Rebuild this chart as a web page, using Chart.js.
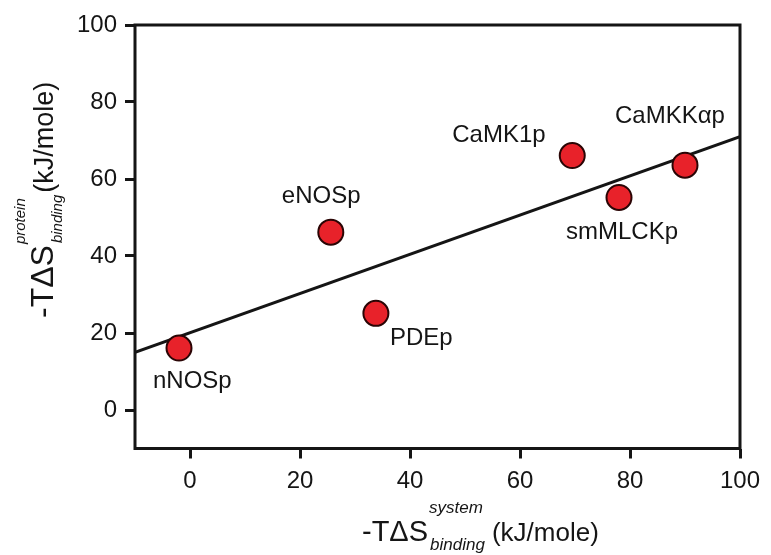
<!DOCTYPE html>
<html>
<head>
<meta charset="utf-8">
<script src="https://cdn.jsdelivr.net/npm/chart.js@4.4.1/dist/chart.umd.min.js"></script>
<style>
  html, body { margin: 0; padding: 0; background: #fff; }
  #wrap { width: 771px; height: 555px; }
</style>
</head>
<body>
<div id="wrap"><canvas id="grafico" width="771" height="555"></canvas></div>
<script>
// peptides and their entropy values (kJ/mole)
const peptidos = ['nNOSp', 'eNOSp', 'PDEp', 'CaMK1p', 'smMLCKp', 'CaMKKαp'];
const sistema = [-2.0, 25.6, 33.8, 69.5, 78.0, 90.0];
const proteina = [16.1, 46.2, 25.1, 66.1, 55.2, 63.6];

// linear fit drawn across the axis
const ajusteX = [-10, 100];
const ajusteY = [15.0, 71.0];

const ticksX = [0, 20, 40, 60, 80, 100];
const ticksY = [0, 20, 40, 60, 80, 100];

// where each label sits relative to its point
const offsetEtiquetas = [[-26, 40], [-49, -29], [14, 32], [-120, -14], [-53, 42], [-70, -42]];

const FUENTE = '"Liberation Sans", Arial, Helvetica, sans-serif';
const NEGRO = '#151515';

const ctx = document.getElementById('grafico').getContext('2d');

function dibujarTitulo(c, x, y, tam, sup, sub) {
    c.fillStyle = NEGRO;
    c.textBaseline = 'alphabetic';
    c.textAlign = 'left';
    c.font = tam.main + 'px ' + FUENTE;
    c.fillText('-TΔS', x, y);
    let x2 = x + c.measureText('-TΔS').width + 1;
    c.font = 'italic ' + tam.chico + 'px ' + FUENTE;
    c.fillText(sup, x2, y - 28);
    c.fillText(sub, x2 + 1, y + 9);
    const ancho = Math.max(c.measureText(sup).width, c.measureText(sub).width + 1);
    c.font = tam.unid + 'px ' + FUENTE;
    c.fillText('(kJ/mole)', x2 + ancho + tam.gap, y);
}

const extras = {
    id: 'extras',
    afterDatasetsDraw(chart) {
        const c = chart.ctx;
        const a = chart.chartArea;
        c.save();
        // frame
        c.strokeStyle = NEGRO;
        c.lineWidth = 3;
        c.strokeRect(a.left, a.top, a.right - a.left, a.bottom - a.top);

        // point labels
        const meta = chart.getDatasetMeta(0);
        c.font = '24px ' + FUENTE;
        c.fillStyle = NEGRO;
        c.textAlign = 'left';
        c.textBaseline = 'alphabetic';
        meta.data.forEach((p, i) => {
            c.fillText(peptidos[i], p.x + offsetEtiquetas[i][0], p.y + offsetEtiquetas[i][1]);
        });

        // x axis title
        dibujarTitulo(c, 362, 541, { main: 29, chico: 17, unid: 26, gap: 7 }, 'system', 'binding');

        // y axis title (rotated)
        c.translate(53, 318);
        c.rotate(-Math.PI / 2);
        dibujarTitulo(c, 0, 0, { main: 32, chico: 15, unid: 27, gap: 2 }, 'protein', 'binding');
        c.restore();
    }
};

const chart = new Chart(ctx, {
    type: 'scatter',
    data: {
        datasets: [{
            label: 'peptidos',
            data: sistema.map((x, i) => ({ x, y: proteina[i] })),
            backgroundColor: '#e8222a',
            borderColor: '#2a0505',
            borderWidth: 2,
            pointRadius: 12.5,
            pointHoverRadius: 12.5
        }, {
            type: 'line',
            label: 'ajuste',
            data: ajusteX.map((x, i) => ({ x, y: ajusteY[i] })),
            borderColor: NEGRO,
            borderWidth: 3,
            pointRadius: 0,
            fill: false
        }]
    },
    options: {
        responsive: false,
        animation: false,
        layout: { padding: { left: 0, top: 25, right: 31, bottom: 0 } },
        plugins: { legend: { display: false }, tooltip: { enabled: false } },
        scales: {
            x: {
                type: 'linear',
                min: -10,
                max: 100,
                afterBuildTicks: s => { s.ticks = ticksX.map(v => ({ value: v })); },
                afterFit: s => { s.height = 106.5; },
                grid: { drawOnChartArea: false, drawTicks: true, tickLength: 10, tickWidth: 3, color: NEGRO },
                border: { display: false },
                ticks: { color: NEGRO, padding: 8, maxRotation: 0, font: { size: 24, family: FUENTE } }
            },
            y: {
                type: 'linear',
                min: -10,
                max: 100,
                afterBuildTicks: s => { s.ticks = ticksY.map(v => ({ value: v })); },
                afterFit: s => { s.width = 135; },
                grid: { drawOnChartArea: false, drawTicks: true, tickLength: 10, tickWidth: 3, color: NEGRO },
                border: { display: false },
                ticks: { color: NEGRO, padding: 8, font: { size: 24, family: FUENTE } }
            }
        }
    },
    plugins: [extras]
});
</script>
</body>
</html>
